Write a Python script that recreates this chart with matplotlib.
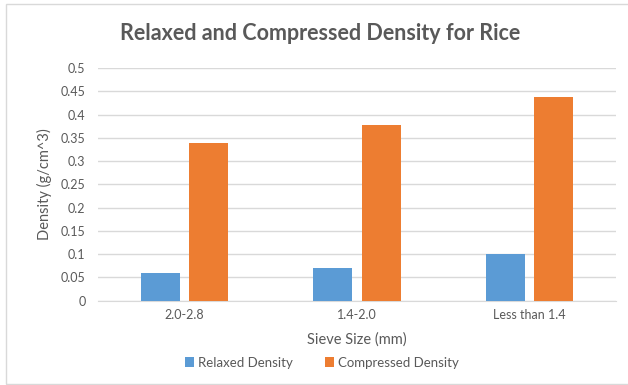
import matplotlib.pyplot as plt
import numpy as np
from matplotlib.patches import Rectangle

# Datos de densidad por tamaño de tamiz
categorias = ['2.0-2.8', '1.4-2.0', 'Less than 1.4']
relajada = [0.059, 0.070, 0.100]
comprimida = [0.340, 0.377, 0.438]

azul = '#5b9bd5'
naranja = '#ed7d31'
gris = '#595959'

plt.rcParams['font.family'] = ['Lato', 'DejaVu Sans']

fig = plt.figure(figsize=(6.28, 3.85), dpi=100)
ax = fig.add_axes([0.156, 0.219, 0.825, 0.604])

x = np.arange(len(categorias))
ancho = 0.225
ax.bar(x - 0.14, relajada, ancho, color=azul, label='Relaxed Density', zorder=3)
ax.bar(x + 0.14, comprimida, ancho, color=naranja, label='Compressed Density', zorder=3)

ax.set_xlim(-0.5, 2.5)
ax.set_ylim(0, 0.5)
ax.set_yticks(np.arange(0, 0.51, 0.05))
ax.set_yticklabels(['0', '0.05', '0.1', '0.15', '0.2', '0.25', '0.3', '0.35', '0.4', '0.45', '0.5'])
ax.set_xticks(x)
ax.set_xticklabels(categorias)
ax.tick_params(axis='both', length=0, colors=gris, labelsize=9)
ax.tick_params(axis='y', pad=9)
ax.tick_params(axis='x', pad=6)
ax.grid(axis='y', color='#d9d9d9', lw=1, zorder=0)
for s in ['top', 'right', 'left']:
    ax.spines[s].set_visible(False)
ax.spines['bottom'].set_color('#d9d9d9')

ax.set_xlabel('Sieve Size (mm)', color=gris, fontsize=10.5, labelpad=8)
ax.set_ylabel('Density (g/cm^3)', color=gris, fontsize=10.5, labelpad=6)

fig.text(0.51, 0.913, 'Relaxed and Compressed Density for Rice', ha='center', va='center',
         fontsize=15.5, fontweight='bold', color=gris)

fig.legend(loc='center', bbox_to_anchor=(0.513, 0.058), ncol=2, frameon=False,
           fontsize=9.5, handlelength=0.7, handleheight=0.7, handletextpad=0.3,
           columnspacing=2.4, labelcolor=gris)

# Borde del área del gráfico
fig.patches.append(Rectangle((6 / 628, 0.002), 1, 1 - 4 / 385 - 0.002, transform=fig.transFigure,
                             fill=False, edgecolor='#d9d9d9', lw=1))

fig.savefig('out.png', dpi=100)
